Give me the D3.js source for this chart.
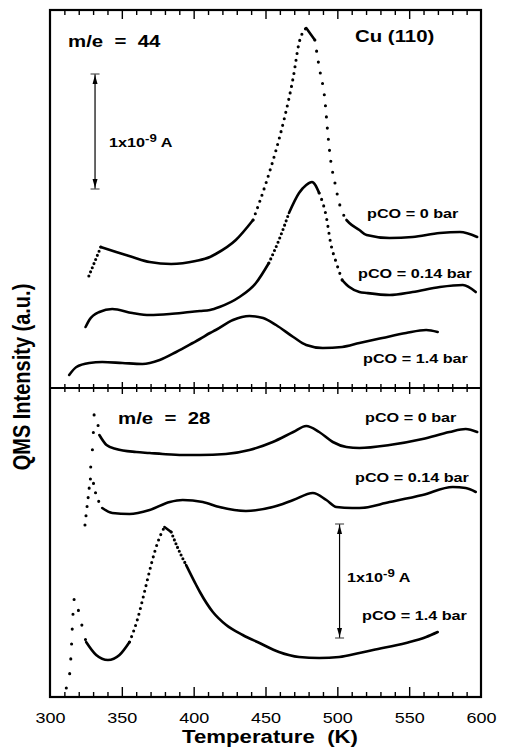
<!DOCTYPE html>
<html><head><meta charset="utf-8">
<script src="https://cdn.jsdelivr.net/npm/d3@7"></script>
<style>html,body{margin:0;padding:0;background:#fff}svg{display:block}text{font-family:"Liberation Sans",Arial,Helvetica,sans-serif;font-weight:bold;fill:#000}</style>
</head><body>
<script>
// ---- data (temperature K, intensity a.u.) ----
const t44_0   = [326.7,335,345.7,357,369,384,401,411,415,429,441,450,457,463,469,473,478,484,487,491,493,495,498,501,506,508,515,520,536,552,571,585,597];
const i44_0   = [112,141,136,131,126,124,127,131,134,148,168,205,238,271,311,345,360,348,321,288,255,228,205,185,168,165,158,153,150,151,155,156,151];
const t44_014 = [324.4,327,334,343,357,369,383,397,404,411,417.6,431.5,443,452,459,466,473,478,482,487,492,495,499,503,508,515,520,536,552,571,587,596];
const i44_014 = [61,68,76,79,75,73,74,76,77,78,81,91,105,125,148,175,195,203,206,195,171,145,125,108,101,96,95,93,96,101,103,96];
const t44_14  = [313,318,327,336,350,364,376,387.5,399,404,411,415,427,438.5,448,457,469,478,489.5,503,515,531,547.5,561.5,569.5];
const i44_14  = [13,21,25,26,25,24,28,36,45,49,55,58,68,72,70,63,51,43,40,41,45,50,55,58,56];

const t28_0   = [328,329.5,330.6,332.5,334,339,345.7,359.6,369,378,392,404,422,438.5,454.7,469,478,487,496.5,506,515,536,559,577.7,589,597];
const i28_0   = [230,254,285,277,262,252,248,245,244,243,242,242,243,247,255,265,271,265,255,250,249,252,258,265,268,265];
const t28_014 = [324,326,328.3,331.8,336,343,355,369,383,392,406,417.6,436,454.7,469,482.6,492,499,510,515,536,559,580,589,596];
const i28_014 = [172,197,220,202,189,184,183,187,195,197,195,190,186,190,197,204,197,190,189,189,195,202,210,209,205];
const t28_14  = [311,313,314.4,315.5,316.7,319,321.3,324.8,331.8,340,348,355,360.8,365.4,370,374.7,379.3,384,388.6,394.4,401.4,404,413,422.3,433.8,445.5,459,473,487,501,515,524.5,547.5,561.5,569.5];
const i28_14  = [9,19,45,79,99,89,75,55,42,37,42,55,79,105,132,155,170,165,149,132,112,105,85,72,62,54,45,40,39,40,44,47,54,60,65];

const xMajor = [300,350,400,450,500,550,600];
const xMinor = d3.range(300, 601, 10);
const curveLabels = ["pCO = 0 bar","pCO = 0.14 bar","pCO = 1.4 bar"];

// ---- layout ----
const W = 505, H = 749;
const L = 50, R = 481, TOP = 10, MID = 388, BOT = 697;
const svg = d3.select("body").append("svg").attr("width", W).attr("height", H);

const x = d3.scaleLinear().domain([300, 600]).range([50.5, 481.5]);
const yTop = d3.scaleLinear().domain([0, 378]).range([MID, TOP]);
const yBot = d3.scaleLinear().domain([0, 309]).range([BOT, MID]);
const SX = 1.2;

function txt(px, py, s, size, anchor) {
  return svg.append("text")
    .attr("transform", `translate(${px},${py}) scale(${SX},1)`)
    .attr("text-anchor", anchor || "start")
    .style("font-size", size + "px")
    .style("white-space", "pre")
    .text(s);
}

// curves: solid where flat, dotted where steep (samples spread apart)
const gLine = d3.line().curve(d3.curveMonotoneX);
function curve(ts, vs, y) {
  const pts = ts.map((t, i) => [x(t), y(vs[i])]);
  const segs = [];
  for (let i = 0; i < pts.length - 1; i++) {
    const s = Math.abs((pts[i + 1][1] - pts[i][1]) / (pts[i + 1][0] - pts[i][0]));
    segs.push({ i, s, steep: s > 2.0 });
  }
  let k = 0;
  while (k < segs.length) {
    let j = k;
    while (j + 1 < segs.length && segs[j + 1].steep === segs[k].steep) j++;
    const run = pts.slice(k, j + 2);
    const p = svg.append("path").attr("fill", "none").attr("stroke", "#000")
      .attr("stroke-linejoin", "round").attr("stroke-linecap", "round")
      .attr("d", gLine(run));
    if (segs[k].steep) {
      const sAvg = d3.mean(segs.slice(k, j + 1), d => d.s);
      const gap = 1.7 * Math.sqrt(1 + sAvg * sAvg);
      p.attr("stroke-width", 3.1).attr("stroke-dasharray", `0 ${gap.toFixed(2)}`);
    } else {
      p.attr("stroke-width", 2.6);
    }
    k = j + 1;
  }
}
curve(t44_0, i44_0, yTop);
curve(t44_014, i44_014, yTop);
curve(t44_14, i44_14, yTop);
curve(t28_0, i28_0, yBot);
curve(t28_014, i28_014, yBot);
curve(t28_14, i28_14, yBot);

// frame
svg.append("rect").attr("x", L).attr("y", TOP).attr("width", R - L).attr("height", BOT - TOP)
  .attr("fill", "none").attr("stroke", "#000").attr("stroke-width", 2.2);
svg.append("line").attr("x1", L).attr("x2", R).attr("y1", MID).attr("y2", MID)
  .attr("stroke", "#000").attr("stroke-width", 2.2);

// ticks
function ticks(yPos, dir, maj, min) {
  svg.append("g").selectAll("line").data(xMinor.filter(v => v > 300 && v < 600)).join("line")
    .attr("x1", d => x(d)).attr("x2", d => x(d))
    .attr("y1", yPos).attr("y2", d => yPos + dir * (xMajor.includes(d) ? maj : min))
    .attr("stroke", "#000").attr("stroke-width", 1.4);
}
ticks(TOP, 1, 9, 5);
ticks(BOT, -1, 10, 5);
ticks(MID, -1, 6, 4);
ticks(MID, 1, 6, 4);

// tick labels
xMajor.forEach(v => txt(x(v), 722.5, String(v), 15, "middle").style("font-weight", "normal"));

// axis titles
txt(270, 742.5, "Temperature  (K)", 18.5, "middle");
svg.append("text")
  .attr("transform", `translate(30,377) rotate(-90) scale(1,${SX})`)
  .attr("text-anchor", "middle").style("font-size", "20px")
  .text("QMS Intensity (a.u.)");

// panel labels
txt(68, 46.5, "m/e  =  44", 17);
txt(355, 41.5, "Cu (110)", 17);
txt(118, 424, "m/e  =  28", 17);

txt(367, 218, curveLabels[0], 13.5);
txt(358, 278, curveLabels[1], 13.5);
txt(363, 363, curveLabels[2], 13.5);
txt(365, 421.5, curveLabels[0], 13.5);
txt(355, 481.5, curveLabels[1], 13.5);
txt(362, 620, curveLabels[2], 13.5);

// scale bars
function scaleBar(px, y0, y1, lx, ly) {
  svg.append("line").attr("x1", px).attr("x2", px).attr("y1", y0).attr("y2", y1)
    .attr("stroke", "#000").attr("stroke-width", 1.2);
  [y0, y1].forEach(yy => svg.append("line").attr("x1", px - 4.5).attr("x2", px + 4.5)
    .attr("y1", yy).attr("y2", yy).attr("stroke", "#555").attr("stroke-width", 1.2));
  svg.append("path").attr("d", `M${px},${y0 + 1}L${px - 2.5},${y0 + 10}L${px + 2.5},${y0 + 10}Z`).attr("fill", "#000");
  svg.append("path").attr("d", `M${px},${y1 - 1}L${px - 2.5},${y1 - 10}L${px + 2.5},${y1 - 10}Z`).attr("fill", "#000");
  const t = txt(lx, ly, "", 13.5);
  t.append("tspan").text("1x10");
  t.append("tspan").attr("dy", -5).style("font-size", "11px").text("-9");
  t.append("tspan").attr("dy", 5).text(" A");
}
scaleBar(x(331), yTop(314), yTop(199), 109, 147);
scaleBar(x(501.2), yBot(173), yBot(59), 347, 582);
</script>
</body></html>
